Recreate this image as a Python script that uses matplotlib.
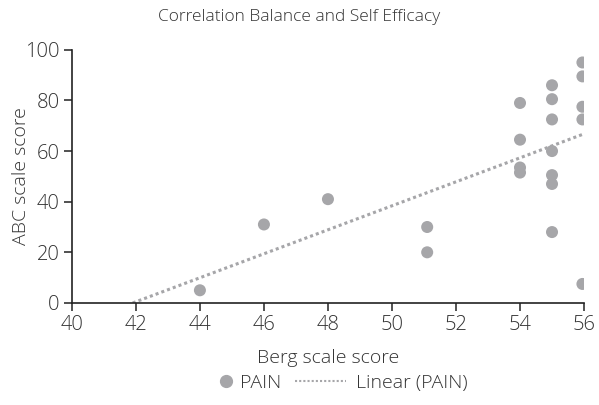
import numpy as np
import matplotlib
matplotlib.use("Agg")
import matplotlib.pyplot as plt
from matplotlib.lines import Line2D

berg = [44, 46, 48, 51.1, 51.1,
        54, 54, 54, 54,
        55, 55, 55, 55, 55, 55, 55,
        55.95, 55.95, 55.95, 55.95, 55.95]
abc = [5, 31, 41, 30, 20,
       79, 64.5, 53.5, 51.5,
       86, 80.5, 72.5, 60, 50.5, 47, 28,
       95, 89.5, 77.5, 72.5, 7.5]
xticks = [40, 42, 44, 46, 48, 50, 52, 54, 56]
yticks = [0, 20, 40, 60, 80, 100]

plt.rcParams['font.family'] = ['Open Sans', 'DejaVu Sans']
plt.rcParams['font.weight'] = 300
plt.rcParams['axes.labelweight'] = 300
plt.rcParams['axes.titleweight'] = 300
txt = '#333333'
gray = '#a6a6a9'

fig = plt.figure(figsize=(5.99, 4.05), dpi=100)
ax = fig.add_axes([0.12, 0.252, 0.855, 0.625])

ax.scatter(berg, abc, s=75, color=gray, edgecolors='none', zorder=3)

m, b = np.polyfit(berg, abc, 1)
x0 = -b / m
xs = np.array([x0, max(berg)])
ax.plot(xs, m * xs + b, linestyle=(0, (1, 1)), color=gray, linewidth=2.2, zorder=2)

ax.set_xlim(40, 56)
ax.set_ylim(0, 100)
ax.set_xticks(xticks)
ax.set_yticks(yticks)
for s in ['top', 'right']:
    ax.spines[s].set_visible(False)
for s in ['left', 'bottom']:
    ax.spines[s].set_linewidth(1.2)
    ax.spines[s].set_color('#222222')
ax.tick_params(axis='both', direction='out', length=6, width=1.1, colors='#222222',
               labelsize=14.5, labelcolor=txt)
ax.tick_params(axis='x', pad=3)
ax.tick_params(axis='y', pad=3)

ax.set_xlabel('Berg scale score', fontsize=14, color=txt, labelpad=10, fontweight=300)
ax.set_ylabel('ABC scale score', fontsize=14, color=txt, fontweight=300)
ax.yaxis.set_label_coords(-0.082, 0.5)

fig.text(0.5, 0.957, 'Correlation Balance and Self Efficacy', ha='center', va='center',
         fontsize=12.5, color=txt, fontweight=300)

h1 = [Line2D([], [], marker='o', linestyle='none', color=gray, markersize=8.5)]
h2 = [Line2D([], [], linestyle=(0, (1, 1)), color=gray, linewidth=1.5)]
leg1 = fig.legend(h1, ['PAIN'], loc='center left', bbox_to_anchor=(0.365, 0.054),
                  frameon=False, handlelength=0.8, handletextpad=0.3,
                  borderpad=0, borderaxespad=0, prop={'size': 14, 'weight': 300})
leg2 = fig.legend(h2, ['Linear (PAIN)'], loc='center left', bbox_to_anchor=(0.493, 0.054),
                  frameon=False, handlelength=2.6, handletextpad=0.5,
                  borderpad=0, borderaxespad=0, prop={'size': 14, 'weight': 300})
for leg in (leg1, leg2):
    for t in leg.get_texts():
        t.set_color(txt)

fig.savefig('out.png', dpi=100)
